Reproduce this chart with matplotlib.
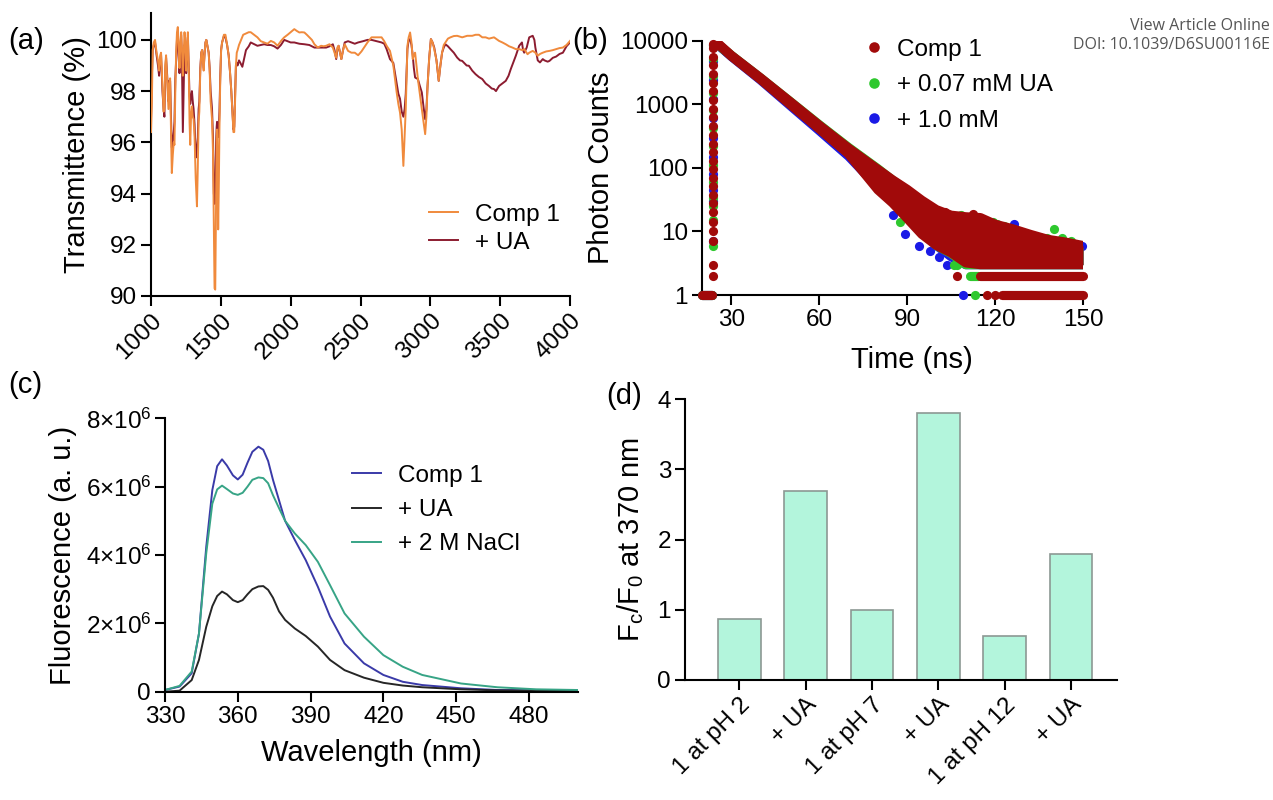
import numpy as np
import matplotlib
matplotlib.use("Agg")
import matplotlib.pyplot as plt
from matplotlib.lines import Line2D

plt.rcParams['font.family'] = ['Liberation Sans', 'DejaVu Sans']
plt.rcParams['mathtext.fontset'] = 'custom'
plt.rcParams['mathtext.rm'] = 'Liberation Sans'
plt.rcParams['mathtext.it'] = 'Liberation Sans:italic'
plt.rcParams['axes.linewidth'] = 1.5

# ---------------- (a) FTIR spectra ----------------
ir_comp1_wn = [1000, 1006, 1012, 1020, 1029, 1040, 1050, 1058, 1066, 1072, 1082, 1090, 1096, 1102, 1108,
               1116, 1125, 1131, 1137, 1143, 1149, 1156, 1163, 1168, 1174, 1180, 1186, 1192, 1198, 1204,
               1210, 1216, 1222, 1228, 1234, 1240, 1247, 1252, 1258, 1264, 1270, 1276, 1281, 1287, 1293,
               1299, 1305, 1312, 1320, 1329, 1335, 1341, 1346, 1353, 1360, 1366, 1372, 1377, 1384, 1390,
               1396, 1403, 1413, 1420, 1427, 1437, 1444, 1450, 1455, 1460, 1466, 1470, 1473, 1477, 1481,
               1486, 1490, 1496, 1502, 1509, 1514, 1522, 1533, 1545, 1556, 1565, 1575, 1583, 1590, 1596,
               1602, 1608, 1614, 1620, 1630, 1645, 1660, 1680, 1700, 1714, 1762, 1786, 1810, 1834, 1858,
               1882, 1906, 1930, 1942, 1954, 1978, 2000, 2026, 2044, 2062, 2080, 2098, 2116, 2134, 2152,
               2170, 2194, 2218, 2236, 2254, 2278, 2302, 2314, 2326, 2334, 2343, 2353, 2363, 2375, 2387,
               2399, 2411, 2435, 2459, 2483, 2507, 2550, 2579, 2615, 2651, 2670, 2687, 2711, 2735, 2759,
               2771, 2783, 2795, 2807, 2816, 2824, 2836, 2845, 2855, 2865, 2874, 2882, 2891, 2901, 2911,
               2925, 2939, 2951, 2963, 2972, 2980, 2992, 3004, 3016, 3028, 3044, 3060, 3072, 3084, 3096,
               3108, 3126, 3144, 3168, 3192, 3228, 3264, 3300, 3324, 3348, 3372, 3396, 3420, 3456, 3492,
               3516, 3540, 3564, 3588, 3612, 3636, 3660, 3672, 3696, 3708, 3733, 3752, 3769, 3785, 3805,
               3830, 3853, 3877, 3901, 3925, 3949, 3975, 4000]
ir_comp1_t = [96.4, 97.5, 99.6, 99.9, 100.0, 99.5, 99.2, 98.8, 99.4, 99.5, 98.2, 97.2, 97.3, 99.0, 99.4,
              98.4, 97.3, 98.3, 98.5, 96.5, 94.8, 95.5, 96.0, 95.9, 98.0, 99.5, 100.3, 100.5, 99.8, 98.9,
              99.8, 100.3, 99.6, 98.6, 99.5, 100.3, 99.8, 98.8, 99.8, 100.3, 98.9, 96.8, 95.9, 97.1, 97.4,
              97.0, 96.9, 96.2, 94.6, 93.5, 95.0, 96.8, 97.2, 98.8, 99.5, 99.6, 99.1, 98.8, 99.5, 99.9,
              100.0, 99.8, 99.5, 98.8, 97.6, 96.9, 95.6, 92.5, 90.3, 90.25, 93.5, 96.0, 96.5, 95.0, 92.6,
              94.5, 96.5, 98.5, 99.6, 99.9, 100.0, 100.2, 100.2, 99.8, 99.4, 98.8, 98.0, 97.2, 96.4, 96.4,
              97.6, 99.0, 99.5, 99.6, 99.8, 100.0, 100.2, 100.25, 100.3, 100.3, 100.1, 99.95, 99.9, 99.85, 99.96,
              99.9, 99.77, 99.95, 100.03, 100.1, 100.2, 100.3, 100.42, 100.35, 100.29, 100.3, 100.29, 100.2, 100.1, 100.0,
              99.83, 99.7, 99.77, 99.75, 99.77, 99.83, 99.7, 99.5, 99.3, 99.7, 99.77, 99.5, 99.25, 99.6, 99.83,
              99.7, 99.57, 99.5, 99.5, 99.4, 99.55, 99.9, 100.1, 100.1, 100.1, 99.95, 99.77, 99.57, 99.0, 97.95,
              97.5, 97.16, 96.5, 95.08, 96.3, 97.3, 99.77, 100.1, 100.29, 99.9, 99.25, 99.4, 99.5, 99.0, 98.47,
              97.9, 97.3, 96.8, 96.32, 97.0, 98.2, 99.3, 100.03, 99.9, 99.64, 99.2, 98.4, 99.0, 99.5, 99.8,
              99.9, 100.05, 100.1, 100.15, 100.16, 100.1, 100.16, 100.16, 100.2, 100.2, 100.1, 100.1, 100.05, 100.1, 99.96,
              99.9, 99.83, 99.75, 99.7, 99.64, 99.64, 99.6, 99.64, 99.44, 99.5, 99.57, 99.5, 99.38, 99.45, 99.5,
              99.55, 99.57, 99.6, 99.64, 99.68, 99.7, 99.8, 99.96]

ir_ua_wn = [1000, 1006, 1012, 1020, 1029, 1040, 1050, 1058, 1066, 1072, 1082, 1090, 1096, 1102, 1108,
            1116, 1125, 1131, 1137, 1143, 1149, 1156, 1163, 1168, 1174, 1180, 1186, 1192, 1198, 1204,
            1210, 1216, 1222, 1228, 1234, 1240, 1247, 1252, 1258, 1264, 1270, 1276, 1281, 1287, 1293,
            1299, 1305, 1312, 1320, 1329, 1335, 1341, 1346, 1353, 1360, 1366, 1372, 1377, 1384, 1390,
            1396, 1403, 1413, 1420, 1427, 1437, 1444, 1450, 1456, 1461, 1466, 1470, 1473, 1477, 1481,
            1486, 1490, 1496, 1502, 1509, 1514, 1522, 1533, 1545, 1556, 1565, 1575, 1583, 1590, 1596,
            1602, 1608, 1614, 1620, 1630, 1640, 1654, 1668, 1680, 1700, 1714, 1762, 1786, 1810, 1834,
            1858, 1882, 1906, 1930, 1954, 1978, 2000, 2026, 2062, 2098, 2134, 2170, 2194, 2218, 2254,
            2278, 2302, 2314, 2326, 2334, 2343, 2353, 2363, 2375, 2387, 2411, 2435, 2459, 2483, 2519,
            2550, 2579, 2615, 2651, 2670, 2687, 2711, 2735, 2759, 2771, 2783, 2795, 2807, 2816, 2824,
            2836, 2845, 2855, 2865, 2874, 2882, 2891, 2901, 2911, 2925, 2939, 2951, 2963, 2972, 2980,
            2992, 3004, 3016, 3028, 3044, 3060, 3072, 3084, 3096, 3108, 3126, 3144, 3168, 3192, 3212,
            3228, 3260, 3276, 3300, 3324, 3348, 3372, 3396, 3420, 3440, 3456, 3470, 3492, 3516, 3540,
            3560, 3576, 3600, 3612, 3636, 3656, 3664, 3672, 3690, 3708, 3733, 3745, 3752, 3769, 3785,
            3805, 3817, 3840, 3853, 3877, 3901, 3925, 3949, 3975, 4000]
ir_ua_t = [96.9, 98.5, 99.6, 99.8, 99.9, 99.4, 99.0, 98.6, 99.3, 99.4, 98.0, 97.3, 97.0, 98.8, 99.3,
           98.6, 97.6, 98.4, 98.4, 97.0, 95.8, 96.0, 96.4, 96.8, 98.5, 99.2, 100.0, 100.3, 99.4, 98.7,
           99.5, 100.2, 99.0, 96.4, 98.0, 99.8, 99.5, 98.7, 99.6, 100.1, 98.9, 97.8, 97.5, 97.8, 98.0,
           97.6, 97.3, 96.7, 95.4, 95.8, 96.2, 97.3, 97.6, 98.9, 99.5, 99.6, 99.2, 98.9, 99.5, 99.9,
           100.0, 99.8, 99.5, 98.9, 98.0, 97.3, 96.2, 94.0, 93.6, 94.5, 96.0, 96.6, 96.8, 96.5, 96.2,
           96.6, 97.2, 98.6, 99.6, 99.9, 100.0, 100.15, 100.1, 99.8, 99.4, 98.8, 98.0, 97.2, 96.5, 96.6,
           97.8, 99.0, 99.1, 99.0, 99.2, 99.1, 98.95, 99.3, 99.6, 99.75, 99.9, 99.77, 99.8, 99.83, 99.8,
           99.8, 99.75, 99.66, 99.8, 100.0, 99.95, 99.9, 99.9, 99.85, 99.83, 99.8, 99.7, 99.7, 99.7, 99.7,
           99.75, 99.83, 99.6, 99.25, 99.6, 99.77, 99.5, 99.25, 99.6, 99.9, 99.95, 99.9, 99.85, 99.9, 99.95,
           100.0, 100.0, 99.95, 99.9, 99.85, 99.64, 99.25, 99.1, 98.3, 97.9, 97.7, 97.2, 97.0, 97.3, 97.9,
           99.64, 100.0, 100.03, 99.8, 99.4, 98.9, 98.53, 98.5, 98.47, 98.2, 97.95, 97.4, 96.9, 97.3, 98.2,
           99.3, 100.03, 99.9, 99.7, 99.2, 98.4, 99.0, 99.5, 99.7, 99.83, 99.75, 99.64, 99.5, 99.31, 99.2,
           99.18, 99.0, 98.99, 98.8, 98.66, 98.55, 98.47, 98.3, 98.2, 98.1, 98.08, 98.0, 98.2, 98.3, 98.4,
           98.6, 98.86, 99.2, 99.38, 99.77, 99.9, 99.6, 99.5, 99.7, 100.1, 100.16, 100.0, 99.7, 99.2, 99.12,
           99.25, 99.2, 99.15, 99.18, 99.3, 99.35, 99.45, 99.5, 99.75, 99.9]

ir_labels = ['Comp 1', '+ UA']
ir_colors = ['#f08a3c', '#8c1c30']

# ---------------- (b) fluorescence decay ----------------
decay_labels = ['Comp 1', '+ 0.07 mM UA', '+ 1.0 mM']
decay_colors = ['#a10a0a', '#2ec82e', '#1a1ae6']

# envelope of the dense decay traces (time in ns, counts at lower / upper edge)
red_band_t = [24.6, 25.2, 30, 40, 50, 60, 70, 80, 85, 90, 95, 100, 105, 110, 115, 120, 126, 132, 138, 144, 150]
red_band_lo = [9400, 9100, 5700, 2450, 1000, 410, 165, 45, 28, 16, 9, 6, 4.6, 3.2, 3, 3, 3, 3, 3, 3, 3]
red_band_hi = [9400, 9300, 5900, 2600, 1110, 470, 205, 95, 65, 46, 31, 22, 18, 17, 16.5, 13, 11, 9, 7.5, 6.8, 6]
green_band_t = [24.6, 30, 40, 50, 60, 70, 80, 85, 90, 95, 100, 105, 110, 120, 130, 140, 150]
green_band_lo = [9400, 5800, 2500, 1030, 420, 170, 55, 32, 18, 10, 6, 4.5, 3, 3, 3, 3, 3]
green_band_hi = [9400, 5880, 2590, 1115, 478, 210, 97, 64, 44, 29, 20, 16, 14, 11.5, 9, 7, 5.5]
blue_band_t = [24.6, 30, 40, 50, 60, 70, 80, 85, 90, 95, 100, 105, 110, 120, 130, 140, 150]
blue_band_lo = [9300, 5650, 2400, 960, 385, 152, 50, 30, 18, 10, 6, 4, 3, 3, 3, 3, 3]
blue_band_hi = [9300, 5800, 2550, 1080, 450, 195, 88, 60, 40, 27, 20, 16, 14, 12, 9, 7, 5.5]

# rising edge channels
rise_t = 23.9
red_rise = [2, 3, 7, 10, 14, 20, 28, 37, 52, 70, 95, 130, 175, 240, 330, 450, 620, 850, 1150,
            1600, 2200, 3000, 4100, 5600, 7600, 9000]
green_rise = [6, 15, 25, 33, 60, 110, 220, 420, 800, 1500, 2800, 5200, 8500]
blue_rise = [7, 30, 45, 80, 150, 300, 600, 1200, 2400, 4800, 8500]

# runs of equal low counts (count, start, end)
red_runs = [(1, 20.0, 23.4), (1, 122.5, 150), (2, 114.8, 150)]
green_runs = [(1, 20.0, 23.4), (2, 111.5, 114.3)]
blue_runs = [(1, 20.0, 23.4)]

# isolated channels
red_dots_t = [107.1, 117.2, 120.0, 112.6, 103.0]
red_dots_c = [2, 1, 1, 19, 20]
green_dots_t = [87.6, 106.0, 107.0, 108.5, 119.4, 120.6, 123.0, 136.0, 137.6, 140.0, 142.8, 146.0, 113.2, 98.0]
green_dots_c = [14, 3, 3, 18, 14, 13, 12, 8, 8, 11, 8, 7, 1, 22]
blue_dots_t = [85.3, 88.7, 89.3, 94.2, 97.8, 101.0, 103.5, 109.2, 126.3, 149.6, 116.0]
blue_dots_c = [18, 42, 9, 6, 5, 4, 3, 1, 13, 6, 14]

# ---------------- (c) emission spectra ----------------
em_wl = [330, 336, 341, 344, 347, 349.5, 351.5, 353.5, 355.5, 358, 360, 362, 364, 366, 368.5, 370.5,
         372.5, 374.5, 377, 379.5, 383.5, 388, 393, 398, 404, 412, 420, 428, 436, 452, 467, 483, 500]
em_comp1 = [0.05, 0.15, 0.54, 1.7, 4.24, 5.9, 6.6, 6.8, 6.62, 6.33, 6.21, 6.35, 6.7, 7.02, 7.17, 7.08,
            6.75, 6.2, 5.6, 5.0, 4.44, 3.85, 3.07, 2.2, 1.41, 0.83, 0.49, 0.29, 0.195, 0.1, 0.05, 0.04, 0.03]
em_ua = [0.0, 0.03, 0.34, 0.93, 1.9, 2.5, 2.8, 2.93, 2.85, 2.68, 2.62, 2.68, 2.85, 3.0, 3.08, 3.09,
         2.98, 2.75, 2.35, 2.1, 1.85, 1.63, 1.32, 0.93, 0.63, 0.41, 0.26, 0.18, 0.13, 0.07, 0.04, 0.03, 0.02]
em_nacl = [0.05, 0.17, 0.59, 1.7, 4.05, 5.5, 5.92, 6.03, 5.93, 5.8, 5.76, 5.82, 6.0, 6.2, 6.27, 6.25,
           6.1, 5.75, 5.37, 5.0, 4.63, 4.29, 3.8, 3.12, 2.29, 1.61, 1.07, 0.73, 0.49, 0.24, 0.13, 0.07, 0.05]
em_scale = 1e6
em_labels = ['Comp 1', '+ UA', '+ 2 M NaCl']
em_colors = ['#3a3aa8', '#262626', '#37a486']
em_yticks = [0, 2e6, 4e6, 6e6, 8e6]
em_yticklabels = ['0', r'2×10$^{6}$', r'4×10$^{6}$', r'6×10$^{6}$', r'8×10$^{6}$']

# ---------------- (d) ratio bars ----------------
bar_labels = ['1 at pH 2', '+ UA', '1 at pH 7', '+ UA', '1 at pH 12', '+ UA']
bar_values = [0.87, 2.7, 1.0, 3.8, 0.62, 1.8]

TICK_FS = 17.5
LABEL_FS = 21
LEG_FS = 17.5

fig = plt.figure(figsize=(12.73, 8.0), dpi=100)


def style(ax):
    for s in ('top', 'right'):
        ax.spines[s].set_visible(False)
    ax.tick_params(direction='out', length=7, width=1.5, labelsize=TICK_FS, pad=3)


# (a)
ax_a = fig.add_axes([151 / 1273, 1 - 296 / 800, 419 / 1273, 283 / 800])
style(ax_a)
ax_a.plot(ir_comp1_wn, ir_comp1_t, color=ir_colors[0], lw=1.4, label=ir_labels[0], zorder=3)
ax_a.plot(ir_ua_wn, ir_ua_t, color=ir_colors[1], lw=1.4, label=ir_labels[1], zorder=2)
ax_a.set_xlim(1000, 4000)
ax_a.set_ylim(90, 101.05)
ax_a.set_xticks(range(1000, 4001, 500))
ax_a.set_yticks(range(90, 101, 2))
for lab in ax_a.get_xticklabels():
    lab.set_rotation(45)
    lab.set_ha('right')
    lab.set_va('top')
    lab.set_rotation_mode('anchor')
ax_a.set_ylabel('Transmittence (%)', fontsize=LABEL_FS, labelpad=4)
ax_a.legend(loc='lower right', bbox_to_anchor=(1.0, 0.115), frameon=False, fontsize=LEG_FS,
            handlelength=1.2, handletextpad=0.7, labelspacing=0.25, borderaxespad=0.0)

# (b)
ax_b = fig.add_axes([702 / 1273, 1 - 295 / 800, 381 / 1273, 254.3 / 800])
style(ax_b)
ax_b.set_yscale('log')
ax_b.set_xlim(20, 150)
ax_b.set_ylim(1, 10000)
ax_b.set_xticks([30, 60, 90, 120, 150])
ax_b.set_yticks([1, 10, 100, 1000, 10000])
ax_b.set_yticklabels(['1', '10', '100', '1000', '10000'])
ax_b.yaxis.set_minor_locator(matplotlib.ticker.NullLocator())
DOT = 6.6  # marker diameter in points


def decay(ax, color, bt, blo, bhi, rise, runs, dt, dc, z):
    ax.fill_between(bt, blo, bhi, color=color, lw=0, zorder=z)
    for edge in (blo, bhi):
        ax.plot(bt, edge, color=color, lw=DOT, solid_capstyle='round', solid_joinstyle='round', zorder=z)
    ax.scatter([rise_t] * len(rise), rise, s=DOT ** 2, color=color, lw=0, zorder=z, clip_on=False)
    for c, t0, t1 in runs:
        ax.plot([t0, t1], [c, c], color=color, lw=DOT, solid_capstyle='round', zorder=z, clip_on=False)
    ax.scatter(dt, dc, s=DOT ** 2, color=color, lw=0, zorder=z, clip_on=False)


decay(ax_b, decay_colors[2], blue_band_t, blue_band_lo, blue_band_hi, blue_rise, blue_runs,
      blue_dots_t, blue_dots_c, 3)
decay(ax_b, decay_colors[1], green_band_t, green_band_lo, green_band_hi, green_rise, green_runs,
      green_dots_t, green_dots_c, 4)
decay(ax_b, decay_colors[0], red_band_t, red_band_lo, red_band_hi, red_rise, red_runs,
      red_dots_t, red_dots_c, 5)
ax_b.set_xlabel('Time (ns)', fontsize=LABEL_FS, labelpad=6)
ax_b.xaxis.set_label_coords(0.551, -0.2)
ax_b.set_ylabel('Photon Counts', fontsize=LABEL_FS, labelpad=4)
handles_b = [Line2D([], [], ls='none', marker='o', ms=DOT + 1, mec='none', mfc=c) for c in decay_colors]
ax_b.legend(handles_b, decay_labels, loc='upper left', bbox_to_anchor=(0.395, 1.045), frameon=False,
            fontsize=LEG_FS, handletextpad=0.45, labelspacing=0.55, borderaxespad=0.0, handlelength=1.0)

# (c)
ax_c = fig.add_axes([165 / 1273, 1 - 691.7 / 800, 412.5 / 1273, 273.4 / 800])
style(ax_c)
for vals, col, lab in zip([em_comp1, em_ua, em_nacl], em_colors, em_labels):
    ax_c.plot(em_wl, np.array(vals) * em_scale, color=col, lw=1.4, label=lab)
ax_c.set_xlim(330, 500)
ax_c.set_ylim(0, 8e6)
ax_c.set_xticks([330, 360, 390, 420, 450, 480])
ax_c.set_yticks(em_yticks)
ax_c.set_yticklabels(em_yticklabels)
ax_c.set_xlabel('Wavelength (nm)', fontsize=LABEL_FS, labelpad=8)
ax_c.set_ylabel('Fluorescence (a. u.)', fontsize=LABEL_FS, labelpad=6)
ax_c.legend(loc='upper left', bbox_to_anchor=(0.43, 0.865), frameon=False, fontsize=LEG_FS,
            handlelength=1.2, handletextpad=0.7, labelspacing=0.5, borderaxespad=0.0)

# (d)
ax_d = fig.add_axes([685 / 1273, 0.15, 431.7 / 1273, 280.7 / 800])
style(ax_d)
xpos = np.arange(len(bar_values))
ax_d.bar(xpos, bar_values, width=0.64, color='#b3f5dc', edgecolor='#8c9893', linewidth=1.2, zorder=2)
ax_d.set_xlim(-0.82, 5.69)
ax_d.set_ylim(0, 4)
ax_d.set_yticks([0, 1, 2, 3, 4])
ax_d.set_xticks(xpos)
ax_d.set_xticklabels(bar_labels, rotation=45, ha='right', va='top', rotation_mode='anchor')
ax_d.set_ylabel(r'F$_{\rm c}$/F$_{\rm 0}$ at 370 nm', fontsize=LABEL_FS, labelpad=8)

# panel letters
fig.text(8 / 1273, 1 - 41 / 800, '(a)', fontsize=LABEL_FS, va='center', ha='left')
fig.text(572 / 1273, 1 - 41 / 800, '(b)', fontsize=LABEL_FS, va='center', ha='left')
fig.text(8 / 1273, 1 - 385 / 800, '(c)', fontsize=LABEL_FS, va='center', ha='left')
fig.text(606 / 1273, 1 - 396 / 800, '(d)', fontsize=LABEL_FS, va='center', ha='left')

# journal header
fig.text(1270 / 1273, 1 - 26 / 800, 'View Article Online', fontsize=11.5, color='#555555',
         ha='right', va='center', family=['Open Sans', 'DejaVu Sans'])
fig.text(1270 / 1273, 1 - 45 / 800, 'DOI: 10.1039/D6SU00116E', fontsize=11.5, color='#555555',
         ha='right', va='center', family=['Open Sans', 'DejaVu Sans'])

fig.savefig('out.png', dpi=100)
